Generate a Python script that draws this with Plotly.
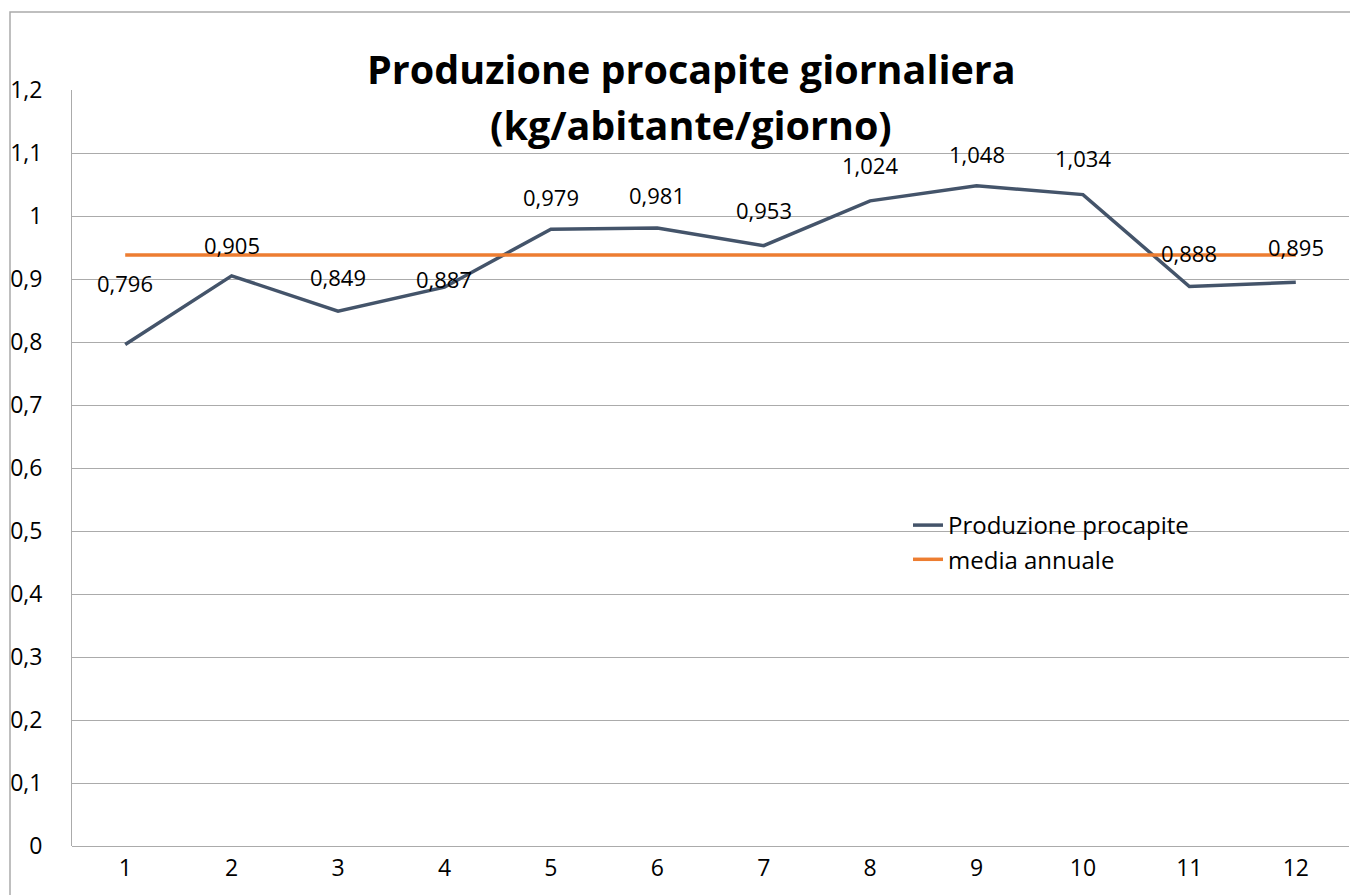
import plotly.graph_objects as go

months = [1, 2, 3, 4, 5, 6, 7, 8, 9, 10, 11, 12]
produzione = [0.796, 0.905, 0.849, 0.887, 0.979, 0.981, 0.953, 1.024, 1.048, 1.034, 0.888, 0.895]
media_value = 0.938
media = [media_value] * len(months)
label_texts = ["0,796", "0,905", "0,849", "0,887", "0,979", "0,981", "0,953", "1,024", "1,048", "1,034", "0,888", "0,895"]
y_ticks = [0, 0.1, 0.2, 0.3, 0.4, 0.5, 0.6, 0.7, 0.8, 0.9, 1.0, 1.1, 1.2]
y_tick_labels = ["0", "0,1", "0,2", "0,3", "0,4", "0,5", "0,6", "0,7", "0,8", "0,9", "1", "1,1", "1,2"]
title_lines = ["Produzione procapite giornaliera", "(kg/abitante/giorno)"]

# style: label vertical offsets (pixels) above each point
label_shift = [62, 31, 34, 8, 32, 33, 36, 36, 32, 37, 34, 35]

FONT = "Open Sans"
GRID = "#ABABAB"

fig = go.Figure()
fig.add_trace(go.Scatter(x=months, y=produzione, mode="lines", name="Produzione procapite",
                         line=dict(color="#44546A", width=3.5)))
fig.add_trace(go.Scatter(x=months, y=media, mode="lines", name="media annuale",
                         line=dict(color="#ED7D31", width=3.5)))

annotations = []
for m, v, t, s in zip(months, produzione, label_texts, label_shift):
    annotations.append(dict(x=m, y=v, xref="x", yref="y", text=t, showarrow=False,
                            yshift=s, yanchor="middle", xanchor="center",
                            font=dict(family=FONT, size=22, color="black")))

# page body has an 8px margin; screen coordinates are offset by OFF
OFF = 8
W, H = 1358, 895
L, R, T, B = 64, 17, 82, 57
pw, ph = W - L - R, H - T - B

def px_x(p):
    return (p - OFF - L) / pw

def px_y(p):
    return (H - B - (p - OFF)) / ph

annotations.append(dict(x=px_x(691), y=px_y(69), xref="paper", yref="paper", text="<b>%s</b>" % title_lines[0],
                        showarrow=False, xanchor="center", yanchor="middle",
                        font=dict(family=FONT, size=39.5, color="black")))
annotations.append(dict(x=px_x(691), y=px_y(125), xref="paper", yref="paper", text="<b>%s</b>" % title_lines[1],
                        showarrow=False, xanchor="center", yanchor="middle",
                        font=dict(family=FONT, size=39.5, color="black")))

fig.update_layout(
    width=W, height=H,
    margin=dict(l=L, r=R, t=T, b=B, autoexpand=False),
    paper_bgcolor="white", plot_bgcolor="white",
    separators=",.",
    font=dict(family=FONT, size=23, color="black"),
    showlegend=True,
    legend=dict(x=px_x(908), y=px_y(503), xanchor="left", yanchor="top",
                bgcolor="rgba(0,0,0,0)", font=dict(family=FONT, size=24, color="black"),
                tracegroupgap=0),
    annotations=annotations,
    shapes=[dict(type="rect", xref="paper", yref="paper",
                 x0=px_x(10), x1=px_x(1357.5), y0=px_y(930), y1=px_y(12),
                 line=dict(color=GRID, width=1.5), layer="below")],
)
fig.update_xaxes(range=[0.5, 12.5], tickvals=months, ticktext=[str(m) for m in months],
                 showgrid=False, zeroline=False, showline=False, ticks="", automargin=False,
                 ticklabelstandoff=6,
                 tickfont=dict(family=FONT, size=23, color="black"))
fig.update_yaxes(range=[0, 1.2], tickvals=y_ticks, ticktext=y_tick_labels,
                 showgrid=True, gridcolor=GRID, gridwidth=1,
                 zeroline=True, zerolinecolor=GRID, zerolinewidth=1,
                 showline=True, linecolor=GRID, linewidth=1, automargin=False,
                 ticks="", ticklabelstandoff=24,
                 tickfont=dict(family=FONT, size=23, color="black"))

fig.write_html("out.html")
